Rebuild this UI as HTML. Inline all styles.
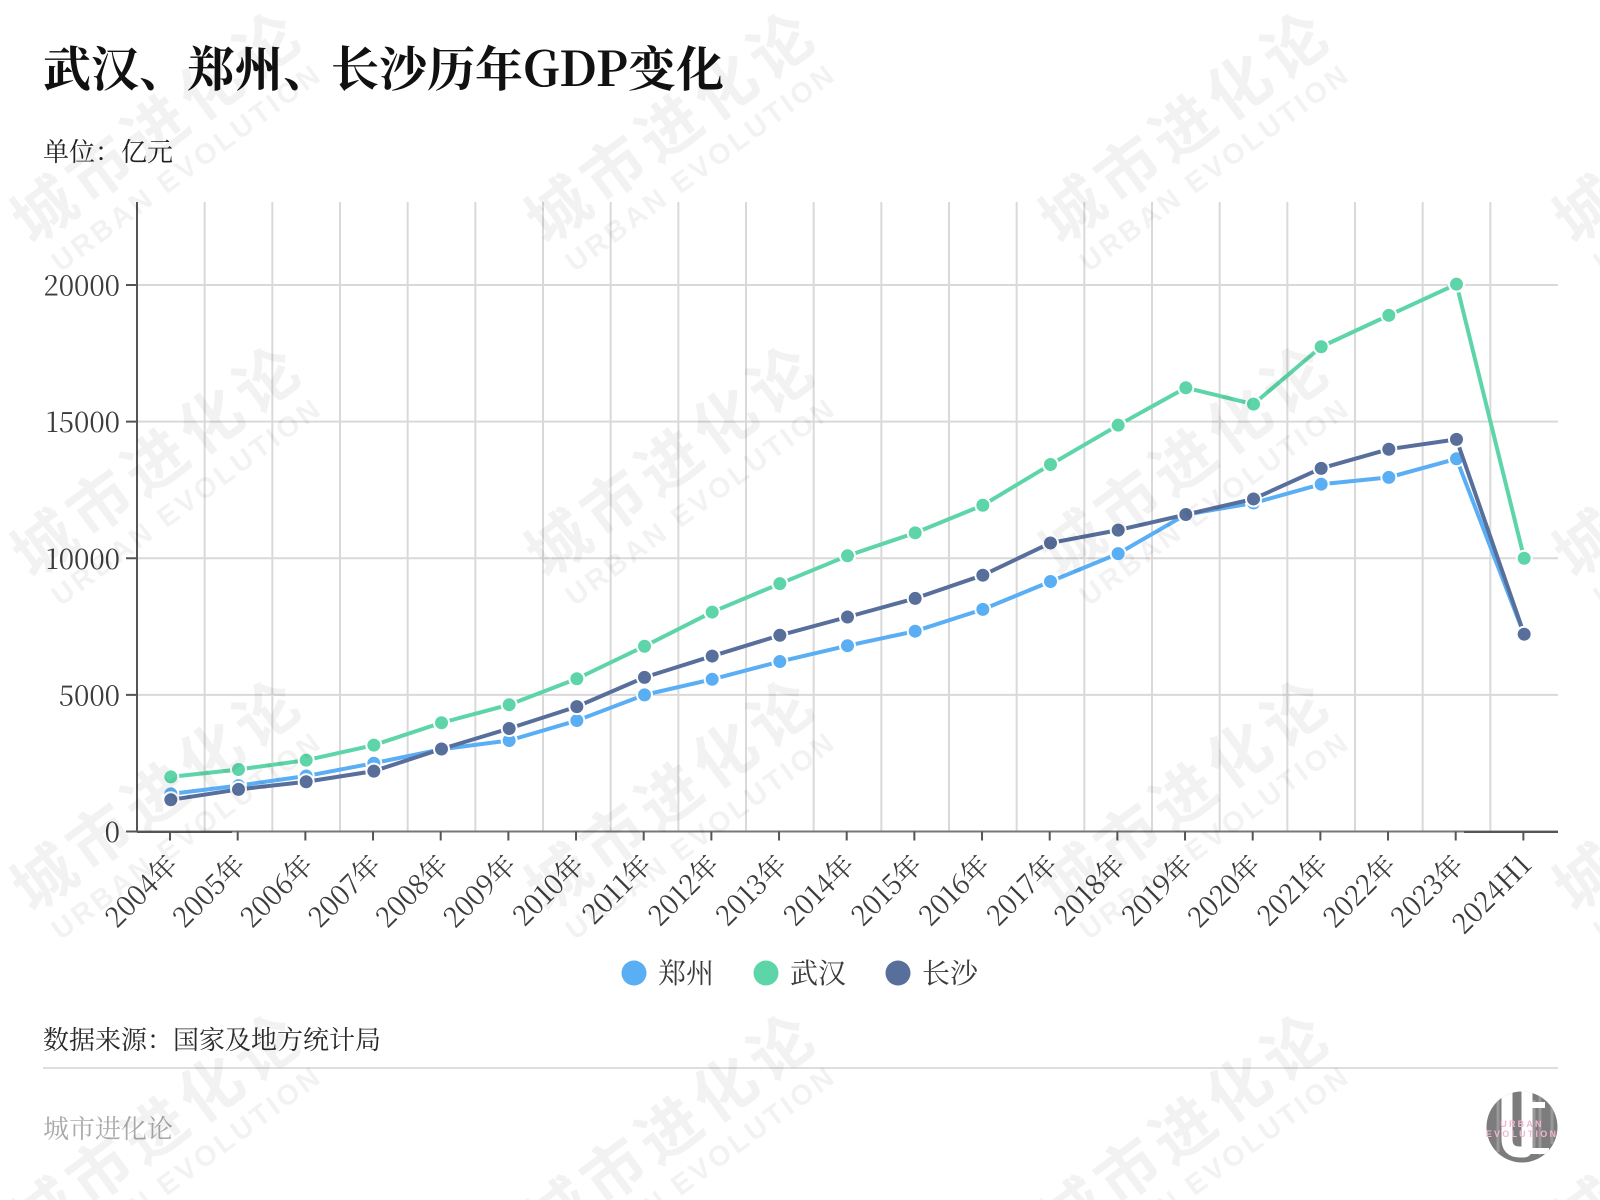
<!DOCTYPE html>
<html lang="zh">
<head>
<meta charset="utf-8">
<title>武汉、郑州、长沙历年GDP变化</title>
<style>
html,body{margin:0;padding:0;background:#fff;width:1600px;height:1200px;overflow:hidden;}
body{position:relative;}
svg{display:block;position:absolute;left:0;top:0;overflow:hidden;}
text{font-family:"Noto Serif CJK SC","Liberation Serif",serif;}
</style>
</head>
<body>
<svg id="chart" width="1600" height="1200" viewBox="0 0 1600 1200" xmlns="http://www.w3.org/2000/svg">
  <defs>
    <clipPath id="logoClip"><circle cx="1522" cy="1127" r="35.5"></circle></clipPath>
    <clipPath id="pageClip"><rect x="0" y="0" width="1600" height="1200"></rect></clipPath>
  </defs>
  <text x="43" y="86" font-size="48" font-weight="700" fill="#111">武汉、郑州、长沙历年GDP变化</text>
  <text x="43" y="161" font-size="26" fill="#222">单位：亿元</text>
  <g id="grid"></g>
  <g id="axes"></g>
  <g id="series"></g>
  <g id="legend"></g>
  <text x="43" y="1049" font-size="26" fill="#2a2a2a">数据来源：国家及地方统计局</text>
  <line x1="43" y1="1068" x2="1558" y2="1068" stroke="#dedede" stroke-width="2"></line>
  <text x="43" y="1138" font-size="26" fill="#aaa">城市进化论</text>
  <g>
    <circle cx="1522" cy="1127" r="35.5" fill="#7c7c7c"></circle>
    <g clip-path="url(#logoClip)">
      <path d="M1498 1092v60M1540 1095v60M1534 1100v50M1552 1100v44" stroke="#999" stroke-width="3" fill="none"></path>
      <path d="M1507 1090 V1139 Q1507 1152 1520 1152 H1524 Q1527 1152 1527 1148 V1090" fill="none" stroke="#fff" stroke-width="11"></path>
      <path d="M1545 1105 H1529 M1529 1151 H1549" fill="none" stroke="#fff" stroke-width="6"></path>
    </g>
    <text x="1522" y="1127" text-anchor="middle" font-size="9" font-weight="700" letter-spacing="2.2" fill="#f3b4cf" style="font-family:'Liberation Sans',sans-serif">URBAN</text>
    <text x="1522" y="1137" text-anchor="middle" font-size="9" font-weight="700" letter-spacing="2.2" fill="#f3b4cf" style="font-family:'Liberation Sans',sans-serif">EVOLUTION</text>
  </g>
  <g id="watermarks" clip-path="url(#pageClip)"></g>
</svg>
<script>
const categories = ['2004年','2005年','2006年','2007年','2008年','2009年','2010年','2011年','2012年','2013年','2014年','2015年','2016年','2017年','2018年','2019年','2020年','2021年','2022年','2023年','2024H1'];
const zhengzhouValues = [1378,1680,2030,2500,3010,3330,4060,5000,5570,6220,6800,7330,8130,9150,10170,11600,12020,12710,12960,13640,7200];
const wuhanValues = [2000,2270,2610,3160,3980,4640,5590,6780,8030,9070,10090,10930,11940,13430,14870,16240,15640,17740,18890,20030,10000];
const changshaValues = [1160,1540,1820,2210,3020,3770,4570,5640,6420,7180,7850,8530,9380,10560,11030,11600,12170,13290,13990,14350,7220];
const yTicks = [0,5000,10000,15000,20000];
const seriesNames = ['郑州','武汉','长沙'];

const NS = 'http://www.w3.org/2000/svg';
const plotLeft = 137, plotRight = 1558, plotTop = 202, plotBottom = 831.5;
const unitsPerPixel = 20000 / 546.5;
const band = (plotRight - plotLeft) / categories.length;
function xScale(i){ return plotLeft + band * (i + 0.5); }
function yScale(v){ return plotBottom - v / unitsPerPixel; }
function make(tag, attrs, parent, txt){
  const el = document.createElementNS(NS, tag);
  for (const k in attrs) el.setAttribute(k, attrs[k]);
  if (txt !== undefined) el.textContent = txt;
  parent.appendChild(el);
  return el;
}
const grid = document.getElementById('grid');
const axes = document.getElementById('axes');
const seriesG = document.getElementById('series');
const legend = document.getElementById('legend');
const wm = document.getElementById('watermarks');

/* grid */
categories.forEach((c, i) => {
  if (i === 0) return;
  const x = plotLeft + band * i;
  const l = make('line', {x1:x, x2:x, y1:plotTop, y2:plotBottom, stroke:'#d9d9d9', 'stroke-width':2}, grid);
  
  
});
yTicks.forEach(t => {
  if (t === 0) return;
  const y = yScale(t);
  const l = make('line', {x1:plotLeft, x2:plotRight, y1:y, y2:y, stroke:'#d9d9d9', 'stroke-width':2}, grid);
  
  
});

/* axes */
const yAxis = make('line', {x1:plotLeft, x2:plotLeft, y1:plotTop, y2:plotBottom + 1, stroke:'#555', 'stroke-width':2}, axes);


const xAxis = make('line', {x1:plotLeft, x2:plotRight, y1:plotBottom, y2:plotBottom, stroke:'#777', 'stroke-width':2}, axes);


const axisLeftEmphasis = make('line', {x1:plotLeft, x2:232, y1:plotBottom + 0.5, y2:plotBottom + 0.5, stroke:'#555', 'stroke-width':2}, axes);


const axisRightEmphasis = make('line', {x1:1464, x2:plotRight, y1:plotBottom + 0.5, y2:plotBottom + 0.5, stroke:'#555', 'stroke-width':2}, axes);


yTicks.forEach(t => {
  const y = yScale(t);
  const m = make('line', {x1:126, x2:plotLeft, y1:y, y2:y, stroke:'#555', 'stroke-width':2}, axes);
  
  
  const lb = make('text', {x:120, y:y + 10.5, 'text-anchor':'end', 'font-size':27.5, fill:'#3c3c3c'}, axes, String(t));
  
  
});
categories.forEach((c, i) => {
  const x = xScale(i) - 0.8;
  const m = make('line', {x1:x, x2:x, y1:plotBottom, y2:plotBottom + 9, stroke:'#555', 'stroke-width':2}, axes);
  
  
  const lb = make('text', {x:0, y:0, 'text-anchor':'end', 'font-size':27.5, fill:'#3c3c3c', transform:'translate(' + (x + 9.5) + ' ' + (plotBottom + 35) + ') rotate(-45)'}, axes, c);
  
  
});

/* series */
const seriesValues = [zhengzhouValues, wuhanValues, changshaValues];
const seriesColors = ['#5aaef4', '#5dd5a9', '#586e9b'];
seriesValues.forEach((vals, s) => {
  const g = make('g', {}, seriesG);
  
  
  const d = vals.map((v, i) => (i ? 'L' : 'M') + xScale(i).toFixed(2) + ' ' + yScale(v).toFixed(2)).join(' ');
  const p = make('path', {d:d, fill:'none', stroke:seriesColors[s], 'stroke-width':4, 'stroke-linejoin':'round'}, g);
  
  
  vals.forEach((v, i) => {
    const c = make('circle', {cx:xScale(i), cy:yScale(v), r:7.5, fill:seriesColors[s], stroke:'#fff', 'stroke-width':2}, g);
    
    
  });
});

/* legend */
const legendCircleX = [634, 766, 898];
seriesNames.forEach((n, s) => {
  const g = make('g', {}, legend);
  
  
  const c = make('circle', {cx:legendCircleX[s], cy:973, r:12.5, fill:seriesColors[s]}, g);
  
  
  const t = make('text', {x:legendCircleX[s] + 24, y:983, 'font-size':28, fill:'#3c3c3c'}, g, n);
  
  
});

/* watermark */
const wmX = [42, 556, 1070, 1584];
const wmY = [212, 546, 880, 1214];
wmY.forEach(y => wmX.forEach(x => {
  const g = make('g', {transform:'translate(' + x + ' ' + y + ') rotate(-36.5)', fill:'#000', 'fill-opacity':0.05}, wm);
  
  
  const a = make('text', {x:-28, y:22, 'font-size':62, 'font-weight':700, 'letter-spacing':7, style:'font-family:"Noto Sans CJK SC","Liberation Sans",sans-serif'}, g, '城市进化论');
  
  
  const b = make('text', {x:-21, y:60, 'font-size':28.5, 'font-weight':700, 'letter-spacing':3.4, style:'font-family:"Liberation Sans",sans-serif'}, g, 'URBAN EVOLUTION');
  
  
}));
</script>
</body>
</html>
